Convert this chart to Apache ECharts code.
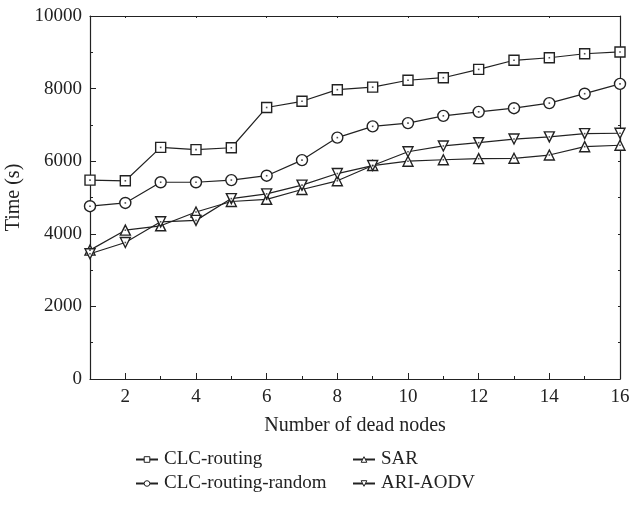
<!DOCTYPE html>
<html>
<head>
<meta charset="utf-8">
<script src="https://cdn.jsdelivr.net/npm/echarts@6/dist/echarts.min.js"></script>
<style>
  html, body { margin: 0; padding: 0; background: #fff; }
  #main { width: 630px; height: 513px; }
</style>
</head>
<body>
<div id="main"></div>
<script>
// number of dead nodes
var deadNodes = [1, 2, 3, 4, 5, 6, 7, 8, 9, 10, 11, 12, 13, 14, 15, 16];
// time (s)
var clcRouting = [5480, 5460, 6380, 6320, 6370, 7480, 7650, 7970, 8040, 8230, 8300, 8530, 8780, 8850, 8960, 9010];
var clcRoutingRandom = [4760, 4850, 5420, 5420, 5480, 5600, 6030, 6650, 6960, 7050, 7250, 7360, 7460, 7600, 7860, 8130];
var sar = [3550, 4100, 4220, 4600, 4890, 4950, 5220, 5460, 5880, 6000, 6040, 6070, 6080, 6170, 6400, 6440];
var ariAodv = [3450, 3760, 4330, 4370, 4970, 5100, 5340, 5660, 5880, 6260, 6420, 6510, 6610, 6670, 6760, 6770];

var majorX = [2, 4, 6, 8, 10, 12, 14, 16];
var minorX = [3, 5, 7, 9, 11, 13, 15];

var FONT = "'Liberation Serif', 'DejaVu Serif', serif";
var INK = "#222";

function pairs(vals) {
  return vals.map(function (v, i) { return [deadNodes[i], v]; });
}

// 空心标记 + 中心小点
function lineSeries(name, vals, symbol, rotate) {
  return {
    name: name,
    type: "line",
    data: pairs(vals),
    symbol: symbol,
    symbolSize: symbol === "circle" ? 11 : 10,
    symbolRotate: rotate || 0,
    showAllSymbol: true,
    lineStyle: { color: INK, width: 1.2 },
    itemStyle: { color: "#fff", borderColor: INK, borderWidth: 1.4 },
    z: 3,
    animation: false
  };
}
function dotSeries(vals) {
  return {
    type: "scatter",
    data: pairs(vals),
    symbol: "rect",
    symbolSize: 1.6,
    itemStyle: { color: INK },
    silent: true,
    z: 5,
    animation: false
  };
}

var legendBase = {
  orient: "vertical", itemGap: 5,
  itemWidth: 22, itemHeight: 7,
  itemStyle: { borderWidth: 1 },
  textStyle: { fontFamily: FONT, fontSize: 19, color: INK, padding: [0, 0, 0, 1] }
};

var chart = echarts.init(document.getElementById("main"));
chart.setOption({
  backgroundColor: "#fff",
  animation: false,
  grid: { left: 90, right: 10, top: 16, bottom: 134, outerBoundsMode: "none", containLabel: false },
  legend: [
    Object.assign({ left: 130, top: 445, data: ["CLC-routing", "CLC-routing-random"] }, legendBase),
    Object.assign({ left: 347, top: 445, data: ["SAR", "ARI-AODV"] }, legendBase)
  ],
  xAxis: [
    {
      type: "value", min: 1, max: 16,
      name: "Number of dead nodes", nameLocation: "middle", nameGap: 37,
      nameTextStyle: { fontFamily: FONT, fontSize: 20, color: INK },
      axisLine: { show: true, lineStyle: { color: INK, width: 1.2 } },
      axisTick: { show: true, inside: true, length: 6, customValues: majorX, lineStyle: { color: INK } },
      axisLabel: { customValues: majorX, fontFamily: FONT, fontSize: 19, color: INK, margin: 9 },
      splitLine: { show: false }
    },
    {
      type: "value", min: 1, max: 16, position: "bottom",
      axisLine: { show: false },
      axisTick: { show: true, inside: true, length: 3, customValues: minorX, lineStyle: { color: INK } },
      axisLabel: { show: false },
      splitLine: { show: false }
    },
    {
      type: "value", min: 1, max: 16, position: "top",
      axisLine: { show: true, lineStyle: { color: INK, width: 1.2 } },
      axisTick: { show: true, inside: true, length: 2, customValues: majorX, lineStyle: { color: INK } },
      axisLabel: { show: false },
      splitLine: { show: false }
    }
  ],
  yAxis: [
    {
      type: "value", min: 0, max: 10000, interval: 2000,
      name: "Time (s)", nameLocation: "middle", nameGap: 60,
      nameTextStyle: { fontFamily: FONT, fontSize: 20, color: INK },
      axisLine: { show: true, lineStyle: { color: INK, width: 1.2 } },
      axisTick: { show: true, inside: true, length: 6, lineStyle: { color: INK } },
      minorTick: { show: true, splitNumber: 2, length: 3, lineStyle: { color: INK } },
      axisLabel: {
        fontFamily: FONT, fontSize: 19, color: INK, margin: 8,
        formatter: function (v) { return String(v); }
      },
      splitLine: { show: false }
    },
    {
      type: "value", min: 0, max: 10000, interval: 1000, position: "right",
      axisLine: { show: true, lineStyle: { color: INK, width: 1.2 } },
      axisTick: { show: true, inside: true, length: 2, lineStyle: { color: INK } },
      axisLabel: { show: false },
      splitLine: { show: false }
    }
  ],
  series: [
    lineSeries("CLC-routing", clcRouting, "rect"),
    lineSeries("CLC-routing-random", clcRoutingRandom, "circle"),
    lineSeries("SAR", sar, "triangle"),
    lineSeries("ARI-AODV", ariAodv, "triangle", 180),
    dotSeries(clcRouting),
    dotSeries(clcRoutingRandom),
    dotSeries(sar),
    dotSeries(ariAodv)
  ]
});
</script>
</body>
</html>
